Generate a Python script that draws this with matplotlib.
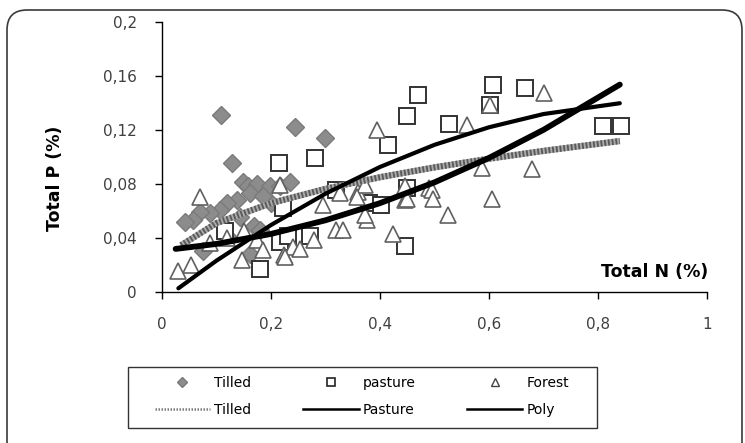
import matplotlib
matplotlib.use("Agg")
import matplotlib.pyplot as plt
from matplotlib.lines import Line2D
from matplotlib.patches import FancyBboxPatch, Rectangle

# scatter data (Total N %, Total P %)
tilled_n = [0.108, 0.244, 0.299, 0.128, 0.149, 0.158, 0.174, 0.198, 0.217, 0.235,
            0.161, 0.137, 0.119, 0.106, 0.088, 0.070, 0.057, 0.042, 0.143, 0.168,
            0.161, 0.076, 0.119, 0.180, 0.200, 0.185]
tilled_p = [0.131, 0.122, 0.114, 0.095, 0.0815, 0.078, 0.080, 0.078, 0.078, 0.0815,
            0.073, 0.068, 0.0655, 0.0605, 0.058, 0.059, 0.053, 0.052, 0.0556, 0.049,
            0.028, 0.030, 0.041, 0.046, 0.066, 0.071]

pasture_n = [0.180, 0.214, 0.280, 0.415, 0.469, 0.449, 0.527, 0.607, 0.602, 0.666,
             0.810, 0.843, 0.319, 0.379, 0.402, 0.445, 0.450, 0.217, 0.272, 0.232,
             0.222, 0.115]
pasture_p = [0.017, 0.095, 0.099, 0.109, 0.146, 0.130, 0.124, 0.153, 0.138, 0.151,
             0.123, 0.123, 0.075, 0.066, 0.064, 0.034, 0.077, 0.037, 0.041, 0.041,
             0.062, 0.045]

forest_n = [0.030, 0.054, 0.070, 0.146, 0.223, 0.241, 0.253, 0.226, 0.278, 0.296,
            0.320, 0.333, 0.217, 0.174, 0.185, 0.088, 0.394, 0.327, 0.360, 0.372,
            0.376, 0.372, 0.424, 0.446, 0.446, 0.357, 0.490, 0.559, 0.587, 0.495,
            0.498, 0.525, 0.605, 0.449, 0.602, 0.678, 0.700, 0.120, 0.150]
forest_p = [0.015, 0.020, 0.070, 0.0235, 0.027, 0.033, 0.032, 0.026, 0.038, 0.064,
            0.0457, 0.0457, 0.079, 0.038, 0.031, 0.036, 0.120, 0.073, 0.074, 0.079,
            0.053, 0.057, 0.043, 0.078, 0.068, 0.070, 0.077, 0.1235, 0.0914, 0.0753,
            0.069, 0.057, 0.069, 0.069, 0.138, 0.091, 0.147, 0.040, 0.045]

# trend lines
tilled_fit_n = [0.035, 0.1, 0.2, 0.3, 0.4, 0.5, 0.6, 0.7, 0.84]
tilled_fit_p = [0.0344, 0.0508, 0.0656, 0.0762, 0.0848, 0.0921, 0.0985, 0.1043, 0.1116]

pasture_fit_n = [0.03, 0.1, 0.2, 0.3, 0.4, 0.5, 0.6, 0.7, 0.84]
pasture_fit_p = [0.0025, 0.023, 0.0494, 0.0726, 0.0924, 0.1088, 0.1218, 0.1316, 0.1396]

poly_fit_n = [0.025, 0.1, 0.2, 0.3, 0.4, 0.5, 0.6, 0.7, 0.84]
poly_fit_p = [0.0317, 0.0354, 0.0428, 0.0529, 0.0656, 0.0810, 0.0991, 0.1199, 0.1534]

x_ticks = [0, 0.2, 0.4, 0.6, 0.8, 1]
x_labels = ["0", "0,2", "0,4", "0,6", "0,8", "1"]
y_ticks = [0, 0.04, 0.08, 0.12, 0.16, 0.2]
y_labels = ["0", "0,04", "0,08", "0,12", "0,16", "0,2"]

W, H = 745, 443
fig = plt.figure(figsize=(W / 100, H / 100), dpi=100)

# rounded chart border
border = FancyBboxPatch((0.07, -0.3), 7.35, 4.33 + 0.3,
                        boxstyle="round,pad=0,rounding_size=0.2",
                        transform=fig.dpi_scale_trans, fill=False,
                        edgecolor="#3a3a3a", linewidth=1.2)
fig.patches.append(border)

ax = fig.add_axes([162 / W, 1 - 291.7 / H, 545 / W, 270 / H])
ax.set_xlim(0, 1)
ax.set_ylim(0, 0.2)

ax.plot(tilled_n, tilled_p, linestyle="none", marker="D", markersize=9.5,
        markerfacecolor="#8c8c8c", markeredgecolor="#7a7a7a", markeredgewidth=1, zorder=2)
ax.plot(pasture_n, pasture_p, linestyle="none", marker="s", markersize=12,
        markerfacecolor="white", markeredgecolor="#333333", markeredgewidth=1.4, zorder=3)
ax.plot(forest_n, forest_p, linestyle="none", marker="^", markersize=12,
        markerfacecolor="white", markeredgecolor="#606060", markeredgewidth=1.2, zorder=4)

# hatched grey trend line
ax.plot(tilled_fit_n, tilled_fit_p, color="#ababab", linewidth=4.5,
        solid_capstyle="butt", zorder=5)
ax.plot(tilled_fit_n, tilled_fit_p, color="#5a5a5a", linewidth=4.5,
        linestyle=(0, (0.3, 0.3)), dash_capstyle="butt", zorder=5)
ax.plot(pasture_fit_n, pasture_fit_p, color="black", linewidth=3,
        solid_capstyle="round", zorder=6)
ax.plot(poly_fit_n, poly_fit_p, color="black", linewidth=4.2,
        solid_capstyle="round", zorder=6)

for s in ["top", "right"]:
    ax.spines[s].set_visible(False)
ax.spines["left"].set_linewidth(1)
ax.spines["bottom"].set_linewidth(1)
ax.set_xticks(x_ticks)
ax.set_xticklabels(x_labels)
ax.set_yticks(y_ticks)
ax.set_yticklabels(y_labels)
ax.tick_params(direction="out", length=5, width=1, pad=13, labelsize=11,
               labelcolor="#404040")

ax.text(1.002, 0.073, "Total N (%)", transform=ax.transAxes, ha="right",
        va="center", fontsize=12.5, fontweight="bold")
fig.text(55 / W, 1 - 178 / H, "Total P (%)", rotation=90, ha="center",
         va="center", fontsize=12.5, fontweight="bold")

# legend
fig.patches.append(Rectangle((128 / W, 1 - 428 / H), 469 / W, 61 / H,
                             transform=fig.transFigure, fill=False,
                             edgecolor="#333333", linewidth=1))
handles = [
    Line2D([], [], linestyle="none", marker="D", markersize=5,
           markerfacecolor="#8c8c8c", markeredgecolor="#7a7a7a"),
    Line2D([], [], color="#7a7a7a", linewidth=1.8, linestyle=(0, (0.6, 0.6))),
    Line2D([], [], linestyle="none", marker="s", markersize=6,
           markerfacecolor="white", markeredgecolor="#222222", markeredgewidth=1.2),
    Line2D([], [], color="black", linewidth=1.8),
    Line2D([], [], linestyle="none", marker="^", markersize=6,
           markerfacecolor="white", markeredgecolor="#444444", markeredgewidth=1),
    Line2D([], [], color="black", linewidth=1.8),
]
labels = ["Tilled", "Tilled", "pasture", "Pasture", "Forest", "Poly"]
fig.legend(handles, labels, ncol=3, frameon=False, loc="center",
           bbox_to_anchor=(362 / W, 1 - 396.5 / H), fontsize=10,
           handlelength=4, handletextpad=0.3, columnspacing=3.7,
           labelspacing=0.95)

fig.savefig("out.png", dpi=100)
